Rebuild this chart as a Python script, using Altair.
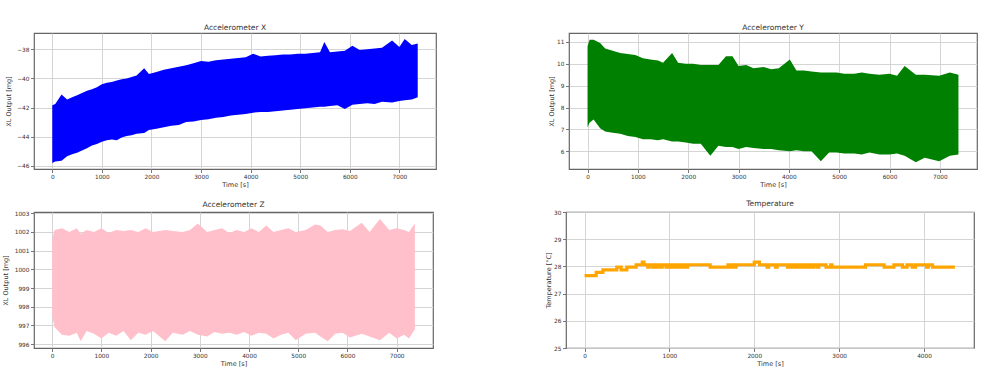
import altair as alt
import pandas as pd

# ---------------- data ----------------
# Accelerometer X : envelope of the dense noisy trace (upper / lower)
x_t = [0, 60, 187, 300, 400, 500, 600, 700, 800, 900, 1000, 1100, 1200, 1300, 1400, 1500,
       1600, 1700, 1853, 1950, 2100, 2250, 2400, 2550, 2700, 2850, 3000, 3150, 3300, 3450,
       3600, 3750, 3900, 4050, 4200, 4350, 4500, 4650, 4800, 4950, 5100, 5250, 5400, 5487,
       5600, 5750, 5900, 6053, 6200, 6350, 6500, 6650, 6853, 7000, 7107, 7250, 7370]
x_up = [-41.85, -41.75, -41.1, -41.45, -41.3, -41.15, -41.0, -40.85, -40.75, -40.6, -40.4,
        -40.3, -40.25, -40.15, -40.05, -40.0, -39.9, -39.8, -39.3, -39.7, -39.55, -39.4,
        -39.3, -39.2, -39.1, -38.95, -38.8, -38.85, -38.75, -38.7, -38.65, -38.6, -38.55,
        -38.3, -38.5, -38.45, -38.4, -38.35, -38.35, -38.3, -38.3, -38.25, -38.2, -37.5,
        -38.2, -38.15, -38.1, -37.75, -38.05, -38.0, -37.95, -37.9, -37.4, -37.85, -37.3,
        -37.7, -37.6]
x_low = [-45.8, -45.7, -45.65, -45.35, -45.2, -45.1, -44.95, -44.8, -44.6, -44.5, -44.35,
         -44.25, -44.2, -44.25, -44.05, -43.95, -43.9, -43.8, -43.75, -43.55, -43.45, -43.35,
         -43.25, -43.2, -43.0, -42.95, -42.85, -42.8, -42.7, -42.65, -42.55, -42.5, -42.45,
         -42.35, -42.3, -42.3, -42.25, -42.2, -42.15, -42.1, -42.05, -42.0, -41.95, -41.95,
         -41.9, -41.85, -42.1, -41.8, -41.75, -41.7, -41.75, -41.6, -41.65, -41.55, -41.5,
         -41.45, -41.3]

# Accelerometer Y
y_t = [0, 40, 120, 250, 350, 500, 650, 800, 950, 1100, 1250, 1400, 1500, 1680, 1800, 1950,
       2100, 2250, 2440, 2600, 2750, 2880, 3000, 3150, 3300, 3500, 3650, 3800, 4020, 4150,
       4300, 4450, 4636, 4800, 4950, 5100, 5300, 5450, 5600, 5800, 6000, 6150, 6300, 6523,
       6700, 6987, 7200, 7370]
y_up = [10.8, 11.1, 11.1, 10.95, 10.7, 10.6, 10.5, 10.45, 10.4, 10.25, 10.2, 10.15, 10.05,
        10.5, 10.05, 10.0, 10.0, 9.95, 9.95, 9.95, 10.35, 10.35, 9.9, 9.95, 9.8, 9.85, 9.75,
        9.8, 10.2, 9.7, 9.7, 9.65, 9.6, 9.6, 9.6, 9.55, 9.55, 9.6, 9.55, 9.5, 9.55, 9.45,
        9.9, 9.5, 9.5, 9.45, 9.6, 9.5]
y_low = [7.1, 7.3, 7.45, 7.05, 6.9, 6.85, 6.8, 6.7, 6.65, 6.55, 6.55, 6.5, 6.55, 6.45, 6.45,
         6.4, 6.35, 6.35, 5.8, 6.25, 6.2, 6.2, 6.1, 6.2, 6.15, 6.1, 6.1, 6.05, 6.0, 6.05, 6.0,
         6.0, 5.55, 5.95, 5.95, 5.9, 5.9, 5.85, 5.95, 5.85, 5.85, 5.9, 5.8, 5.5, 5.7, 5.55,
         5.8, 5.85]

# Accelerometer Z
z_t = [0, 50, 200, 350, 500, 580, 700, 850, 1000, 1150, 1300, 1450, 1600, 1750, 1900, 2050,
       2300, 2450, 2650, 2800, 2960, 3150, 3300, 3450, 3600, 3750, 3900, 4050, 4200, 4350,
       4500, 4650, 4800, 4950, 5150, 5342, 5450, 5600, 5750, 5900, 6050, 6290, 6450, 6660,
       6850, 7000, 7150, 7250, 7370]
z_up = [1001.6, 1002.1, 1002.2, 1002.0, 1002.2, 1001.9, 1002.1, 1002.0, 1002.2, 1001.95,
        1002.1, 1002.05, 1002.1, 1002.0, 1002.2, 1002.0, 1002.1, 1002.05, 1002.0, 1002.1,
        1002.45, 1002.0, 1002.1, 1002.2, 1001.95, 1002.1, 1002.0, 1002.2, 1002.0, 1002.35,
        1002.0, 1002.1, 1002.2, 1002.0, 1002.1, 1002.4, 1002.35, 1002.0, 1002.1, 1002.15,
        1002.05, 1002.5, 1002.0, 1002.7, 1002.1, 1002.2, 1002.1, 1002.0, 1002.45]
z_low = [997.5, 996.9, 996.5, 996.45, 996.6, 996.15, 996.7, 996.55, 996.3, 996.6, 996.45,
         996.7, 996.2, 996.6, 996.5, 996.7, 996.15, 996.6, 996.5, 996.7, 996.5, 996.4,
         996.65, 996.55, 996.6, 996.5, 996.65, 996.45, 996.6, 996.55, 996.3, 996.5, 996.6,
         996.2, 996.55, 996.6, 996.4, 996.15, 996.55, 996.6, 996.35, 996.55, 996.4, 996.2,
         996.6, 996.3, 996.5, 996.3, 996.8]

# Temperature (step trace)
temp_t = [0, 137, 216, 380, 431, 498, 608, 680, 700, 745, 760, 800, 815, 850, 870, 900, 915,
          960, 975, 1000, 1020, 1050, 1070, 1100, 1120, 1150, 1165, 1195, 1215, 1480, 1690,
          1710, 1740, 1760, 1785, 2000, 2060, 2150, 2170, 2250, 2270, 2390, 2410, 2440, 2470,
          2500, 2530, 2560, 2590, 2620, 2650, 2680, 2700, 2740, 2760, 2830, 2845, 2900, 2915,
          3160, 3310, 3530, 3645, 3745, 3800, 3860, 3900, 4030, 4050, 4100, 4363]
temp_v = [27.66, 27.78, 27.87, 27.97, 27.87, 27.97, 28.06, 28.16, 28.06, 27.97, 28.06, 27.97,
          28.06, 27.97, 28.06, 27.97, 28.06, 27.97, 28.06, 27.97, 28.06, 27.97, 28.06, 27.97,
          28.06, 27.97, 28.06, 27.97, 28.06, 27.97, 28.06, 27.97, 28.06, 27.97, 28.06, 28.16,
          28.06, 27.97, 28.06, 27.97, 28.06, 27.97, 28.06, 27.97, 28.06, 27.97, 28.06, 27.97,
          28.06, 27.97, 28.06, 27.97, 28.06, 27.97, 28.06, 28.06, 27.97, 28.06, 27.97, 27.97,
          28.06, 27.97, 28.06, 27.97, 28.06, 27.97, 28.06, 27.97, 28.06, 27.97, 27.97]

acc_ticks = [0, 1000, 2000, 3000, 4000, 5000, 6000, 7000]
temp_ticks = [0, 1000, 2000, 3000, 4000]

FONT = "DejaVu Sans"


def xenc(domain, ticks):
    return alt.X("t:Q", scale=alt.Scale(domain=domain, nice=False, zero=False),
                 axis=alt.Axis(values=ticks, title="Time [s]", format="d",
                               labelPadding=1, titlePadding=2))


def yaxis(ticks, title, ext):
    return alt.Axis(values=ticks, title=title, format="d", labelPadding=1.5,
                    minExtent=ext, maxExtent=ext, titlePadding=3)


def band(t, up, low, color, title, ydom, yticks, ext, width):
    df = pd.DataFrame({"t": t, "up": up, "low": low})
    return alt.Chart(df, title=title).mark_area(color=color, opacity=1, clip=True).encode(
        x=xenc([-368.5, 7738.5], acc_ticks),
        y=alt.Y("up:Q", scale=alt.Scale(domain=ydom, nice=False, zero=False),
                axis=yaxis(yticks, "XL Output [mg]", ext)),
        y2="low:Q",
    ).properties(width=width, height=136)


tl = band(x_t, x_up, x_low, "#0000ff", "Accelerometer X", [-46.22, -36.88],
          [-46, -44, -42, -40, -38], 20, 402)
tr = band(y_t, y_up, y_low, "#008000", "Accelerometer Y", [5.19, 11.41],
          [6, 7, 8, 9, 10, 11], 12, 408)
bl = band(z_t, z_up, z_low, "#ffc0cb", "Accelerometer Z", [995.79, 1003.07],
          [996, 997, 998, 999, 1000, 1001, 1002, 1003], 23, 399)

tdf = pd.DataFrame({"t": temp_t, "v": temp_v})
br = alt.Chart(tdf, title="Temperature").mark_line(
    color="#ffa500", strokeWidth=3.2, interpolate="step-after", clip=True
).encode(
    x=xenc([-218.5, 4588.5], temp_ticks),
    y=alt.Y("v:Q", scale=alt.Scale(domain=[25, 30], nice=False, zero=False),
            axis=yaxis([25, 26, 27, 28, 29, 30], "Temperature [°C]", 12)),
).properties(width=408, height=136)

row1 = alt.hconcat(tl, tr, spacing=110)
row2 = alt.hconcat(bl, br, spacing=110)

chart = alt.vconcat(row1, row2, spacing=10).properties(
    padding={"left": 1, "top": 23, "right": 0, "bottom": 0}
).configure_view(
    stroke="#666666", strokeWidth=1.2
).configure_axis(
    labelFont=FONT, labelFontSize=5.8, labelColor="#333333",
    titleFont=FONT, titleFontSize=6.5, titleFontWeight="normal", titleColor="#333333",
    tickSize=3.5, tickColor="#555555", tickWidth=0.8, domain=False,
    grid=True, gridColor="#d0d0d0", gridWidth=0.9,
).configure_title(
    font=FONT, fontSize=7.5, fontWeight="normal", color="#333333", offset=1.5, anchor="middle"
)

chart.save("out.html", embed_options={"renderer": "svg", "actions": False})
